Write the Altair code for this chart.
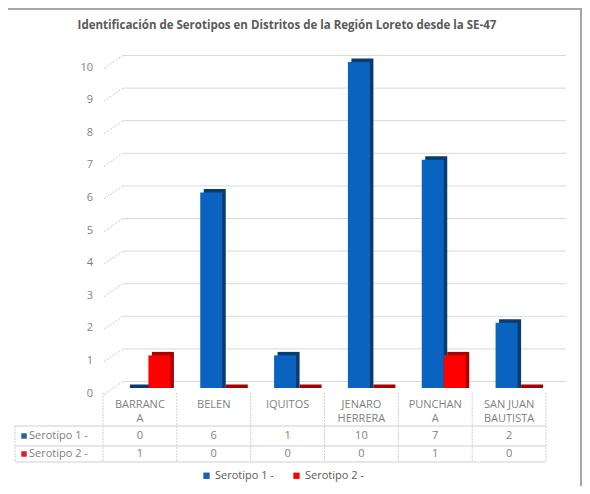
import altair as alt
import pandas as pd

categories = ["BARRANCA", "BELEN", "IQUITOS", "JENARO HERRERA", "PUNCHANA", "SAN JUAN BAUTISTA"]
header_line1 = ["BARRANC", "BELEN", "IQUITOS", "JENARO", "PUNCHAN", "SAN JUAN"]
header_line2 = ["A", "", "", "HERRERA", "A", "BAUTISTA"]
serotipo1 = [0, 6, 1, 10, 7, 2]
serotipo2 = [1, 0, 0, 0, 1, 0]
series = ["Serotipo 1 -", "Serotipo 2 -"]
y_ticks = list(range(0, 11))
title_text = "Identificación de Serotipos en Distritos de la Región Loreto desde la SE-47"

FONT = "Open Sans"
GRAY = "#7f7f7f"
BLUE, BLUE_D = "#0b63c0", "#0a3b70"
RED, RED_D = "#ff0000", "#a80000"

bars = pd.DataFrame(
    [{"cat": c, "serie": series[0], "value": v} for c, v in zip(categories, serotipo1)]
    + [{"cat": c, "serie": series[1], "value": v} for c, v in zip(categories, serotipo2)]
)
header = pd.DataFrame({"cat": categories, "l1": header_line1, "l2": header_line2})
ticks = pd.DataFrame({"v": y_ticks})
rows = pd.DataFrame({"serie": series})
title_df = pd.DataFrame({"t": [title_text]})
last_cat = pd.DataFrame({"cat": [categories[-1]]})

W, H = 574, 478
xs = alt.Scale(domain=categories, range=[95, 538], paddingInner=0, paddingOuter=0)
ys = alt.Scale(domain=[0, 10], range=[380, 54], nice=False, zero=True)
X = alt.X("cat:N", scale=xs, axis=None, sort=categories)
Y = alt.Y("value:Q", scale=ys, axis=None, stack=None)
color_enc = alt.Color(
    "serie:N",
    scale=alt.Scale(domain=series, range=[BLUE, RED]),
    legend=alt.Legend(
        orient="none", legendX=193, legendY=462, direction="horizontal",
        title=None, symbolType="square", symbolSize=40, symbolStrokeWidth=0,
        labelFont=FONT, labelFontSize=11, labelColor="#595959",
        labelOffset=3, columnPadding=17,
    ),
)

# back-wall gridlines
grid = alt.Chart(ticks).mark_rule(color="#d9d9d9", strokeWidth=1, yOffset=-6.5).encode(
    y=alt.Y("v:Q", scale=ys, axis=None), x=alt.value(115), x2=alt.value(558)
)
diag = alt.Chart(ticks).mark_rule(
    color="#c8c8c8", strokeWidth=1, strokeDash=[2, 1.5], yOffset=6.5, y2Offset=-6.5
).encode(
    y=alt.Y("v:Q", scale=ys, axis=None), y2=alt.Y2("v:Q"),
    x=alt.value(96), x2=alt.value(115)
)
ylabels = alt.Chart(ticks).mark_text(
    align="right", baseline="middle", dy=5.5, font=FONT, fontSize=11, color=GRAY
).encode(y=alt.Y("v:Q", scale=ys, axis=None), x=alt.value(85), text="v:Q")

layers = [grid, diag, ylabels]

# 3D-ish bars: a dark side/top face shifted up-right, then the front face
for s, off, dark in [(series[0], -2.5, BLUE_D), (series[1], 19.5, RED_D)]:
    b = alt.Chart(bars).transform_filter(alt.datum.serie == s)
    side = b.mark_bar(width=22, xOffset=off + 3.5, yOffset=-3.5, y2Offset=0.001, color=dark).encode(
        x=X, y=Y, y2=alt.datum(0))
    front = b.mark_bar(width=22, xOffset=off).encode(x=X, y=Y, y2=alt.datum(0), color=color_enc)
    layers += [side, front]

# data table
line_col = "#cfcfcf"
vlines = alt.Chart(header).mark_rule(color=line_col, strokeDash=[2, 1]).encode(
    x=alt.X("cat:N", scale=xs, axis=None, bandPosition=0), y=alt.value(385), y2=alt.value(454)
)
vlast = alt.Chart(last_cat).mark_rule(color=line_col, strokeDash=[2, 1]).encode(
    x=alt.X("cat:N", scale=xs, axis=None, bandPosition=1), y=alt.value(385), y2=alt.value(454)
)
hl = []
for yy in [418, 438, 454]:
    hl.append(alt.Chart(title_df).mark_rule(color=line_col).encode(
        x=alt.value(7), x2=alt.value(538), y=alt.value(yy)))
vleft = alt.Chart(title_df).mark_rule(color=line_col, strokeDash=[2, 1]).encode(
    x=alt.value(7), y=alt.value(418), y2=alt.value(454))

h1 = alt.Chart(header).mark_text(font=FONT, fontSize=11, color=GRAY, baseline="middle").encode(
    x=X, y=alt.value(397), text="l1:N")
h2 = alt.Chart(header).mark_text(font=FONT, fontSize=11, color=GRAY, baseline="middle").encode(
    x=X, y=alt.value(411), text="l2:N")

r1 = alt.Chart(bars).transform_filter(alt.datum.serie == series[0]).mark_text(
    font=FONT, fontSize=11, color=GRAY, baseline="middle").encode(x=X, y=alt.value(428), text="value:Q")
r2 = alt.Chart(bars).transform_filter(alt.datum.serie == series[1]).mark_text(
    font=FONT, fontSize=11, color=GRAY, baseline="middle").encode(x=X, y=alt.value(446), text="value:Q")

lab1 = alt.Chart(rows).transform_filter(alt.datum.serie == series[0]).mark_text(
    font=FONT, fontSize=11, color=GRAY, align="left", baseline="middle").encode(
    x=alt.value(21), y=alt.value(428), text="serie:N")
lab2 = alt.Chart(rows).transform_filter(alt.datum.serie == series[1]).mark_text(
    font=FONT, fontSize=11, color=GRAY, align="left", baseline="middle").encode(
    x=alt.value(21), y=alt.value(446), text="serie:N")
sq1 = alt.Chart(rows).transform_filter(alt.datum.serie == series[0]).mark_square(
    size=30, color="#2f5f96", opacity=1).encode(x=alt.value(16), y=alt.value(428))
sq2 = alt.Chart(rows).transform_filter(alt.datum.serie == series[1]).mark_square(
    size=30, color="#d6202a", opacity=1).encode(x=alt.value(16), y=alt.value(446))

title = alt.Chart(title_df).mark_text(
    font=FONT, fontSize=11.5, fontWeight="bold", color="#595959", baseline="middle"
).encode(x=alt.value(279), y=alt.value(18), text="t:N")

frame_top = alt.Chart(title_df).mark_rule(color="#a6a6a6", strokeWidth=2).encode(
    x=alt.value(0), x2=alt.value(574), y=alt.value(1))
frame_right = alt.Chart(title_df).mark_rule(color="#a6a6a6", strokeWidth=2).encode(
    x=alt.value(573), y=alt.value(0), y2=alt.value(478))

layers += [vlines, vlast] + hl + [vleft, h1, h2, r1, r2, sq1, sq2, lab1, lab2, title, frame_top, frame_right]

chart = alt.layer(*layers).properties(
    width=W, height=H, padding=0, autosize=alt.AutoSizeParams(type="none"), background="white"
).configure_view(stroke=None)

chart.save("out.html", embed_options={"renderer": "svg", "actions": False})
